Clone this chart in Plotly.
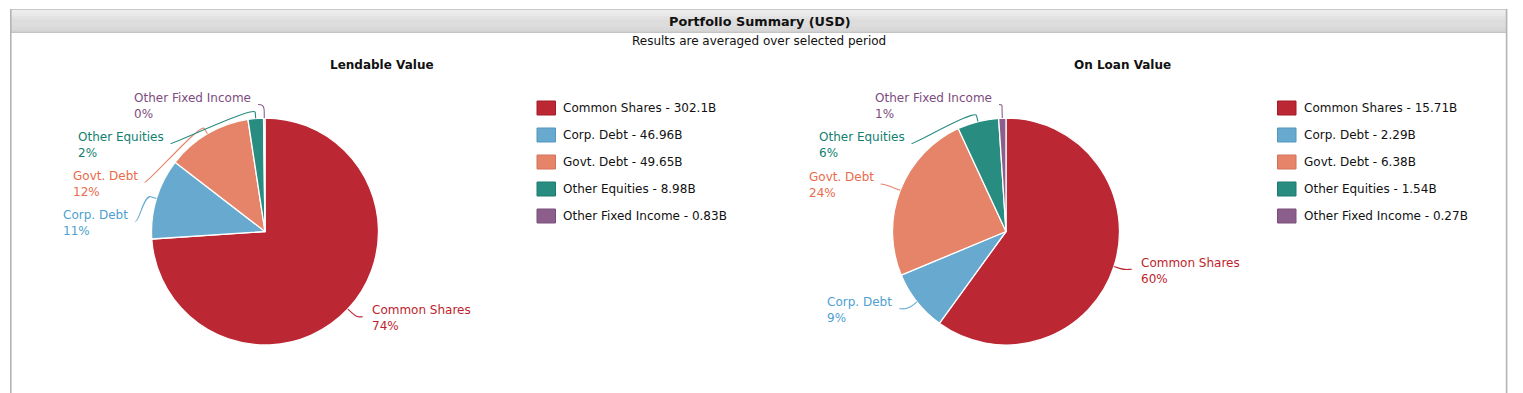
import numpy as np
import plotly.graph_objects as go

# ---------------- data ----------------
CATEGORIES = ["Common Shares", "Corp. Debt", "Govt. Debt", "Other Equities", "Other Fixed Income"]
LENDABLE_VALUE = [302.1, 46.96, 49.65, 8.98, 0.83]   # billions USD
ON_LOAN_VALUE = [15.71, 2.29, 6.38, 1.54, 0.27]      # billions USD
PIE_TITLES = ["Lendable Value", "On Loan Value"]
HEADER = "Portfolio Summary (USD)"
SUBTITLE = "Results are averaged over selected period"

# ---------------- style ----------------
SLICE_COLORS = ["#BB2733", "#67A9CF", "#E58469", "#288C80", "#8C5E8C"]
EDGE_COLORS = ["#A31D28", "#5597BE", "#D2725A", "#1D7A6F", "#7A4E7A"]
LABEL_COLORS = ["#BE1E2D", "#4E9FD2", "#EA6B4B", "#11806F", "#7E4B7E"]
FONT = "DejaVu Sans, Verdana, sans-serif"
PAGE_W, PAGE_H = 1523, 393
OFF = 8            # default page body margin
W, H = PAGE_W - OFF, PAGE_H - OFF
R = 113.5          # pie radius in px
LR = 127           # natural label radius
RX = 123           # radius used for x of moved labels
TOP_Y = 106        # top limit of label centres
GAP = 39           # min vertical gap between label centres
TEXT_PAD = 13

PIES = [
    dict(title=PIE_TITLES[0], values=LENDABLE_VALUE, cx=265, cy=231.5, title_x=381.5, legend_x=537),
    dict(title=PIE_TITLES[1], values=ON_LOAN_VALUE, cx=1006, cy=231.5, title_x=1122, legend_x=1277.5),
]

fig = go.Figure()
shapes = []
annotations = []

# pixel coordinate helper axis
fig.add_trace(go.Scatter(x=[], y=[], xaxis="x", yaxis="y", showlegend=False, hoverinfo="skip"))

# ---------- frame and header ----------
HY0, HY1 = 9.5, 32
n = 24
top_c = np.array([0xEC, 0xEC, 0xEC])
bot_c = np.array([0xD0, 0xD0, 0xD0])
for k in range(n):
    t = k / (n - 1)
    c = (top_c * (1 - t) + bot_c * t).astype(int)
    y0 = HY0 + (HY1 - HY0) * k / n
    y1 = HY0 + (HY1 - HY0) * (k + 1) / n
    shapes.append(dict(type="rect", xref="x", yref="y", x0=10, x1=1507, y0=y0, y1=y1 + 0.3,
                       line=dict(width=0), fillcolor="rgb(%d,%d,%d)" % tuple(c), layer="below"))
shapes.append(dict(type="line", xref="x", yref="y", x0=10, x1=1507, y0=9.5, y1=9.5,
                   line=dict(color="#C8C8C8", width=1)))
shapes.append(dict(type="line", xref="x", yref="y", x0=10, x1=1507, y0=32.5, y1=32.5,
                   line=dict(color="#C4C4C4", width=1)))
for xb in (10.8, 1506.6):
    shapes.append(dict(type="line", xref="x", yref="y", x0=xb, x1=xb, y0=9, y1=PAGE_H,
                       line=dict(color="#B4B4B4", width=1.6)))

annotations.append(dict(xref="x", yref="y", x=760, y=21, text="<b>%s</b>" % HEADER, showarrow=False,
                        font=dict(family=FONT, size=12.8, color="#111111"), xanchor="center", yanchor="middle"))
annotations.append(dict(xref="x", yref="y", x=759, y=41, text=SUBTITLE, showarrow=False,
                        font=dict(family=FONT, size=12, color="#111111"), xanchor="center", yanchor="middle"))


def px_to_paper_x(x):
    return (x - OFF) / W


def px_to_paper_y(y):
    return 1 - (y - OFF) / H


for pie in PIES:
    vals = pie["values"]
    cx, cy = pie["cx"], pie["cy"]
    total = float(sum(vals))

    fig.add_trace(go.Pie(
        values=vals, labels=CATEGORIES, sort=False, direction="clockwise", rotation=0,
        marker=dict(colors=SLICE_COLORS, line=dict(color="white", width=1.3)),
        textinfo="none", showlegend=False,
        domain=dict(x=[px_to_paper_x(cx - R), px_to_paper_x(cx + R)],
                    y=[px_to_paper_y(cy + R), px_to_paper_y(cy - R)]),
        hovertemplate="%{label}: %{value}B<extra></extra>",
    ))

    annotations.append(dict(xref="x", yref="y", x=pie["title_x"], y=65, text="<b>%s</b>" % pie["title"],
                            showarrow=False, font=dict(family=FONT, size=12, color="#111111"),
                            xanchor="center", yanchor="middle"))

    # ---- data labels (positions derived from slice angles) ----
    items = []
    cum = 0.0
    for i, v in enumerate(vals):
        a0 = cum / total * 360.0
        cum += v
        a1 = cum / total * 360.0
        mid = np.radians((a0 + a1) / 2)
        dx, dy = np.sin(mid), -np.cos(mid)
        side = 1 if (a0 + a1) / 2 < 180 else -1
        items.append(dict(i=i, dx=dx, dy=dy, side=side, nx=cx + LR * dx, ny=cy + LR * dy,
                          pct=int(round(v / total * 100))))
    for side in (1, -1):
        grp = sorted([it for it in items if it["side"] == side], key=lambda it: it["ny"])
        prev = None
        for it in grp:
            y = max(it["ny"], TOP_Y) if prev is None else max(it["ny"], prev + GAP)
            it["y"] = y
            prev = y
            if abs(y - it["ny"]) < 1:
                it["x"] = it["nx"]
            else:
                it["x"] = cx + side * np.sqrt(max(RX ** 2 - (y - cy) ** 2, 0))

    for it in items:
        i, side = it["i"], it["side"]
        ax, ay = it["x"], it["y"]
        text_x = ax + side * TEXT_PAD
        ex, ey = cx + R * it["dx"], cy + R * it["dy"]
        bx, by = cx + (R + 6) * it["dx"], cy + (R + 6) * it["dy"]
        c2x, c2y = cx + (R + 13) * it["dx"], cy + (R + 13) * it["dy"]
        sx = text_x - side * (8 if side > 0 else 6)
        sy = ay - 1.5
        c1x = sx - side * 4
        path = "M %.2f,%.2f C %.2f,%.2f %.2f,%.2f %.2f,%.2f L %.2f,%.2f" % (
            sx, sy, c1x, sy, c2x, c2y, bx, by, ex, ey)
        shapes.append(dict(type="path", xref="x", yref="y", path=path,
                           line=dict(color=SLICE_COLORS[i], width=1.1), layer="above"))
        annotations.append(dict(
            xref="x", yref="y", x=text_x, y=ay,
            text="%s<br>%d%%" % (CATEGORIES[i], it["pct"]), showarrow=False,
            xanchor="left" if side > 0 else "right", yanchor="middle", align="left",
            font=dict(family=FONT, size=12, color=LABEL_COLORS[i]), borderpad=0))

    # ---- legend ----
    for i, (name, v) in enumerate(zip(CATEGORIES, vals)):
        ry = 108 + 27 * i
        lx = pie["legend_x"]
        shapes.append(dict(type="rect", xref="x", yref="y", x0=lx, x1=lx + 18.5, y0=ry - 7, y1=ry + 7,
                           fillcolor=SLICE_COLORS[i], line=dict(color=EDGE_COLORS[i], width=1)))
        annotations.append(dict(xref="x", yref="y", x=lx + 25, y=ry, text="%s - %gB" % (name, v),
                                showarrow=False, xanchor="left", yanchor="middle",
                                font=dict(family=FONT, size=12, color="#111111"), borderpad=0))

fig.update_layout(
    width=W, height=H,
    margin=dict(l=0, r=0, t=0, b=0),
    paper_bgcolor="white", plot_bgcolor="white",
    xaxis=dict(range=[OFF, PAGE_W], visible=False, fixedrange=True, domain=[0, 1]),
    yaxis=dict(range=[PAGE_H, OFF], visible=False, fixedrange=True, domain=[0, 1]),
    shapes=shapes, annotations=annotations,
    showlegend=False,
    font=dict(family=FONT),
)

fig.write_html("out.html")
